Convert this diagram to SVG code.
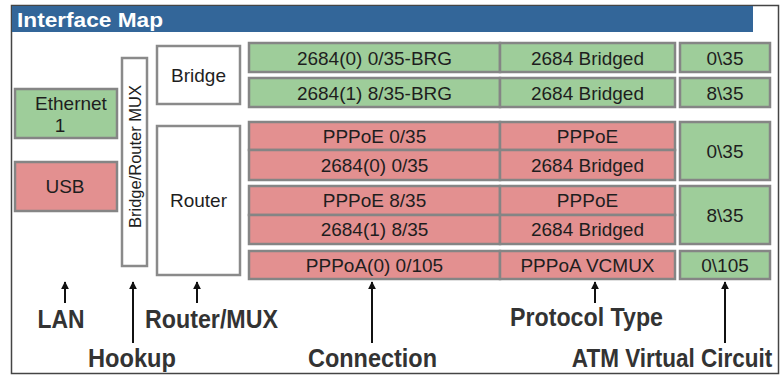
<svg xmlns="http://www.w3.org/2000/svg" width="784" height="375" viewBox="0 0 784 375">
<defs>
<style>
.g{fill:#9ecd9a;stroke:#858585;stroke-width:2.5}
.r{fill:#e39090;stroke:#858585;stroke-width:2.5}
.w{fill:#fff;stroke:#8a8a8a;stroke-width:2.5}
.t{font-family:"Liberation Sans",Arial,sans-serif;font-size:19px;fill:#1e1e1e;text-anchor:middle}
.b{font-family:"Liberation Sans",Arial,sans-serif;font-weight:bold;font-size:25px;fill:#333;text-anchor:middle}
.ar{stroke:#111;stroke-width:2;fill:none;marker-end:url(#ah)}
</style>
<marker id="ah" viewBox="0 0 10 10" refX="9" refY="5" markerWidth="8" markerHeight="8" markerUnits="userSpaceOnUse" orient="auto">
<path d="M0,0 L10,5 L0,10 Z" fill="#111"/>
</marker>
</defs>
<rect x="0" y="0" width="784" height="375" fill="#fff"/>
<rect x="11.5" y="5.5" width="767" height="368" fill="#fff" stroke="#444" stroke-width="1.5"/>
<rect x="12" y="6" width="741" height="26" fill="#336699"/>
<text x="17" y="27" font-family="'Liberation Sans',Arial,sans-serif" font-weight="bold" font-size="21" fill="#fff" textLength="146" lengthAdjust="spacingAndGlyphs">Interface Map</text>

<g id="ethernet"><rect class="g" x="15" y="89" width="102" height="49"/><text class="t" x="71" y="110">Ethernet</text><text class="t" x="60" y="132">1</text></g>
<g id="usb"><rect class="r" x="15" y="162" width="102" height="49"/><text class="t" x="65" y="193">USB</text></g>
<g id="mux"><rect class="w" x="122" y="58" width="25" height="208"/><text class="t" transform="translate(141,156.5) rotate(-90)" style="font-size:16.5px">Bridge/Router MUX</text></g>
<g id="bridge"><rect class="w" x="157" y="46" width="83" height="58"/><text class="t" x="198.5" y="82">Bridge</text></g>
<g id="router"><rect class="w" x="157" y="126" width="83" height="149"/><text class="t" x="198.5" y="207">Router</text></g>

<g id="row1"><rect class="g" x="249" y="43" width="251" height="29"/><text class="t" x="374.5" y="65">2684(0) 0/35-BRG</text>
<rect class="g" x="500" y="43" width="175" height="29"/><text class="t" x="587.5" y="65">2684 Bridged</text></g>
<g id="vc1"><rect class="g" x="680" y="43" width="90" height="29"/><text class="t" x="725" y="65">0\35</text></g>
<g id="row2"><rect class="g" x="249" y="78" width="251" height="29"/><text class="t" x="374.5" y="100">2684(1) 8/35-BRG</text>
<rect class="g" x="500" y="78" width="175" height="29"/><text class="t" x="587.5" y="100">2684 Bridged</text></g>
<g id="vc2"><rect class="g" x="680" y="78" width="90" height="29"/><text class="t" x="725" y="100">8\35</text></g>

<g id="row3"><rect class="r" x="249" y="122" width="251" height="28"/><text class="t" x="374.5" y="143">PPPoE 0/35</text>
<rect class="r" x="500" y="122" width="175" height="28"/><text class="t" x="587.5" y="143">PPPoE</text></g>
<g id="row4"><rect class="r" x="249" y="150" width="251" height="30"/><text class="t" x="374.5" y="172">2684(0) 0/35</text>
<rect class="r" x="500" y="150" width="175" height="30"/><text class="t" x="587.5" y="172">2684 Bridged</text></g>
<g id="vc3"><rect class="g" x="680" y="122" width="90" height="58"/><text class="t" x="725" y="158">0\35</text></g>

<g id="row5"><rect class="r" x="249" y="186" width="251" height="29"/><text class="t" x="374.5" y="207">PPPoE 8/35</text>
<rect class="r" x="500" y="186" width="175" height="29"/><text class="t" x="587.5" y="207">PPPoE</text></g>
<g id="row6"><rect class="r" x="249" y="215" width="251" height="29"/><text class="t" x="374.5" y="236">2684(1) 8/35</text>
<rect class="r" x="500" y="215" width="175" height="29"/><text class="t" x="587.5" y="236">2684 Bridged</text></g>
<g id="vc4"><rect class="g" x="680" y="186" width="90" height="58"/><text class="t" x="725" y="222">8\35</text></g>

<g id="row7"><rect class="r" x="249" y="251" width="251" height="28"/><text class="t" x="374.5" y="272">PPPoA(0) 0/105</text>
<rect class="r" x="500" y="251" width="175" height="28"/><text class="t" x="587.5" y="272">PPPoA VCMUX</text></g>
<g id="vc5"><rect class="g" x="680" y="251" width="90" height="28"/><text class="t" x="725" y="272">0\105</text></g>

<g id="connectors">
<line class="ar" x1="65" y1="303" x2="65" y2="282"/>
<line class="ar" x1="133" y1="343" x2="133" y2="282"/>
<line class="ar" x1="197" y1="303" x2="197" y2="282"/>
<line class="ar" x1="372" y1="343" x2="372" y2="282"/>
<line class="ar" x1="595" y1="303" x2="595" y2="282"/>
<line class="ar" x1="725" y1="343" x2="725" y2="282"/>
</g>
<g id="labels">
<text class="b" x="61" y="328" textLength="47" lengthAdjust="spacingAndGlyphs">LAN</text>
<text class="b" x="211.5" y="328" textLength="133" lengthAdjust="spacingAndGlyphs">Router/MUX</text>
<text class="b" x="132" y="367" textLength="88" lengthAdjust="spacingAndGlyphs">Hookup</text>
<text class="b" x="372.5" y="367" textLength="129" lengthAdjust="spacingAndGlyphs">Connection</text>
<text class="b" x="586.5" y="326" textLength="153" lengthAdjust="spacingAndGlyphs">Protocol Type</text>
<text class="b" transform="translate(672,367) scale(0.9,1)" x="0" y="0">ATM Virtual Circuit</text>
</g>
</svg>
